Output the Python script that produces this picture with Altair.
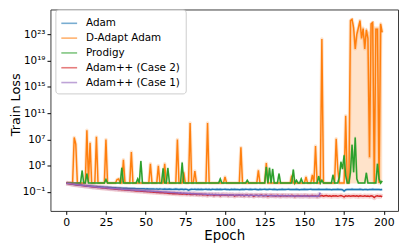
import altair as alt
import pandas as pd

# ---- data (log10 of train loss) ----
series_names = ["Adam", "D-Adapt Adam", "Prodigy", "Adam++ (Case 2)", "Adam++ (Case 1)"]
colors = ["#1f77b4", "#ff7f0e", "#2ca02c", "#d62728", "#9467bd"]

adam_log = [
    0.36, 0.32, 0.28, 0.25, 0.21, 0.18, 0.15, 0.12, 0.09, 0.06,
    0.03, 0.01, -0.02, -0.04, -0.07, -0.09, -0.11, -0.13, -0.15, -0.17,
    -0.19, -0.21, -0.23, -0.24, -0.26, -0.28, -0.29, -0.31, -0.32, -0.34,
    -0.35, -0.36, -0.38, -0.39, -0.40, -0.41, -0.42, -0.43, -0.44, -0.45,
    -0.46, -0.47, -0.47, -0.48, -0.49, -0.50, -0.49, -0.51, -0.52, -0.51,
    -0.53, -0.52, -0.54, -0.53, -0.55, -0.54, -0.56, -0.55, -0.57, -0.54,
    -0.56, -0.58, -0.55, -0.57, -0.59, -0.56, -0.58, -0.60, -0.57, -0.55,
    -0.58, -0.61, -0.57, -0.59, -0.62, -0.58, -0.60, -0.72, -0.63, -0.58,
    -0.60, -0.57, -0.61, -0.59, -0.62, -0.58, -0.63, -0.60, -0.57, -0.61,
    -0.59, -0.64, -0.58, -0.60, -0.62, -0.57, -0.61, -0.59, -0.63, -0.60,
    -0.58, -0.62, -0.60, -0.64, -0.59, -0.61, -0.58, -0.63, -0.60, -0.66,
    -0.62, -0.59, -0.61, -0.57, -0.60, -0.63, -0.59, -0.62, -0.60, -0.58,
    -0.61, -0.64, -0.59, -0.62, -0.60, -0.57, -0.61, -0.63, -0.59, -0.60,
    -0.62, -0.58, -0.61, -0.64, -0.60, -0.62, -0.59, -0.61, -0.63, -0.60,
    -0.58, -0.61, -0.63, -0.60, -0.62, -0.59, -0.61, -0.64, -0.60, -0.62,
    -0.59, -0.61, -0.63, -0.60, -0.58, -0.62, -0.60, -0.63, -0.61, -0.59,
    -0.62, -0.60, -0.63, -0.61, -0.59, -0.62, -0.60, -0.64, -0.61, -0.60,
    -0.62, -0.59, -0.61, -0.63, -0.65, -0.85, -0.66, -0.61, -0.60, -0.62,
    -0.59, -0.61, -0.63, -0.60, -0.62, -0.59, -0.61, -0.64, -0.60, -0.62,
    -0.64, -0.60, -0.62, -0.59, -0.61, -0.63, -0.60, -0.62, -0.64, -0.61,
]

dadapt_log = [
    0.36, 0.36, 0.36, 0.36, 0.36, 7.3, 6.3, 0.36, 0.36, 0.36,
    0.36, 0.36, 0.36, 8.4, 0.5, 6.5, 0.36, 0.36, 0.36, 7.4,
    0.36, 0.36, 0.36, 0.36, 0.36, 7.0, 0.36, 0.36, 0.36, 0.36,
    0.36, 0.36, 0.9, 1.0, 0.36, 0.36, 3.9, 0.36, 0.36, 0.36,
    0.36, 5.1, 0.36, 0.36, 0.36, 0.36, 0.36, 0.36, 0.36, 0.36,
    0.36, 0.36, 0.36, 3.3, 0.36, 0.36, 0.36, 0.36, 3.0, 0.36,
    0.36, 0.36, 3.3, 0.36, 0.36, 0.36, 0.36, 0.36, 0.36, 0.36,
    7.0, 0.36, 0.36, 0.36, 2.0, 0.36, 0.36, 0.36, 9.5, 0.36,
    0.36, 2.2, 0.36, 0.36, 0.36, 0.36, 0.36, 0.36, 0.36, 9.5,
    0.36, 0.36, 0.36, 0.36, 0.36, 0.36, 0.36, 0.36, 0.36, 0.36,
    1.3, 0.36, 0.36, 0.36, 0.36, 0.36, 0.36, 0.36, 0.36, 0.36,
    5.8, 0.36, 0.36, 0.36, 0.36, 0.36, 0.36, 0.36, 0.36, 0.36,
    0.36, 2.3, 0.36, 0.36, 0.36, 0.36, 3.4, 0.36, 0.36, 0.36,
    0.36, 0.36, 0.36, 0.36, 0.36, 0.36, 0.36, 0.36, 0.36, 0.36,
    0.36, 0.36, 1.5, 0.36, 0.36, 0.36, 0.36, 0.36, 0.36, 0.36,
    0.36, 1.3, 0.36, 0.36, 0.36, 1.6, 0.36, 6.0, 0.36, 0.36,
    0.36, 22.3, 0.36, 0.36, 0.36, 0.36, 0.36, 0.36, 0.36, 0.36,
    7.1, 2.5, 0.36, 0.36, 0.36, 0.36, 10.6, 0.36, 0.36, 25.1,
    25.3, 24.0, 20.8, 23.0, 24.0, 25.1, 22.4, 23.9, 20.8, 23.7,
    22.4, 4.3, 24.6, 24.8, 0.36, 23.8, 23.8, 0.36, 24.6, 23.3,
]

prodigy_log = [
    0.36, 0.36, 0.36, 0.36, 0.36, 0.36, 0.36, 0.36, 0.36, 0.36,
    2.25, 0.36, 0.36, 1.8, 0.36, 0.36, 0.36, 0.36, 0.36, 0.36,
    0.36, 0.36, 0.36, 0.36, 0.36, 0.9, 0.36, 0.36, 0.36, 0.36,
    0.36, 0.36, 0.36, 0.36, 0.36, 2.7, 0.36, 0.36, 0.36, 0.36,
    0.36, 0.36, 0.36, 0.36, 0.36, 1.0, 0.36, 3.7, 0.36, 0.36,
    0.36, 0.36, 0.36, 0.36, 0.36, 0.36, 0.36, 0.36, 0.36, 0.36,
    0.36, 2.6, 0.36, 0.36, 2.65, 0.36, 0.36, 0.36, 0.36, 0.36,
    0.36, 0.36, 0.36, 3.5, 0.36, 0.36, 0.36, 0.36, 0.36, 0.36,
    0.36, 0.36, 0.36, 0.36, 0.36, 0.36, 0.36, 0.36, 0.36, 0.36,
    0.36, 0.36, 0.36, 0.36, 0.36, 0.36, 0.36, 1.0, 0.36, 0.36,
    0.36, 0.36, 0.36, 0.36, 0.36, 0.36, 0.36, 0.36, 0.36, 0.36,
    0.36, 0.36, 0.36, 0.36, 0.8, 0.36, 0.36, 0.36, 0.36, 0.36,
    0.36, 0.36, 0.36, 0.36, 0.36, 0.36, 2.8, 0.36, 2.7, 0.36,
    2.5, 0.36, 0.36, 0.36, 1.8, 0.36, 0.36, 0.36, 0.36, 0.36,
    0.36, 0.36, 0.36, 2.4, 0.36, 0.8, 0.36, 0.36, 1.0, 0.36,
    0.36, 0.36, 0.36, 0.36, 0.36, 0.36, 0.36, 0.36, 0.36, 1.4,
    0.36, 0.8, 0.36, 0.36, 0.36, 0.36, 0.36, 0.36, 1.6, 0.36,
    0.36, 0.36, 1.2, 3.6, 2.5, 4.6, 1.5, 0.36, 0.36, 2.0,
    6.2, 2.0, 7.3, 1.0, 0.36, 0.36, 0.36, 0.36, 0.36, 1.9,
    0.36, 0.36, 0.36, 0.36, 0.36, 0.36, 3.3, 1.0, 0.36, 0.7,
]

case2_log = [
    0.36, 0.31, 0.27, 0.23, 0.19, 0.15, 0.11, 0.08, 0.04, 0.01,
    -0.02, -0.05, -0.08, -0.11, -0.14, -0.17, -0.20, -0.23, -0.25, -0.28,
    -0.31, -0.33, -0.36, -0.38, -0.41, -0.43, -0.45, -0.48, -0.50, -0.52,
    -0.55, -0.57, -0.59, -0.61, -0.63, -0.65, -0.67, -0.69, -0.71, -0.73,
    -0.75, -0.77, -0.79, -0.80, -0.83, -0.84, -0.86, -0.89, -0.90, -0.92,
    -0.94, -0.95, -0.98, -0.99, -1.01, -1.03, -1.04, -1.07, -1.08, -1.10,
    -1.12, -1.13, -1.16, -1.15, -1.19, -1.21, -1.19, -1.25, -1.22, -1.27,
    -1.24, -1.30, -1.26, -1.33, -1.28, -1.32, -1.36, -1.29, -1.38, -1.33,
    -1.37, -1.31, -1.40, -1.35, -1.42, -1.34, -1.45, -1.38, -1.41, -1.52,
    -1.39, -1.44, -1.40, -1.55, -1.42, -1.47, -1.41, -1.58, -1.45, -1.43,
    -1.49, -1.42, -1.56, -1.46, -1.50, -1.44, -1.62, -1.48, -1.52, -1.45,
    -1.55, -1.47, -1.60, -1.50, -1.46, -1.58, -1.51, -1.49, -1.65, -1.53,
    -1.48, -1.57, -1.52, -1.47, -1.61, -1.54, -1.50, -1.68, -1.55, -1.49,
    -1.58, -1.53, -1.62, -1.50, -1.56, -1.66, -1.52, -1.59, -1.54, -1.63,
    -1.55, -1.60, -1.51, -1.58, -1.70, -1.56, -1.53, -1.61, -1.57, -1.64,
    -1.52, -1.59, -1.55, -1.67, -1.58, -1.54, -1.62, -1.57, -1.72, -1.56,
    -1.60, -1.53, -1.65, -1.58, -1.55, -1.63, -1.59, -1.68, -1.56, -1.61,
    -1.57, -1.66, -1.59, -1.54, -1.62, -1.75, -1.58, -1.63, -1.57, -1.65,
    -1.60, -1.56, -1.64, -1.59, -1.69, -1.57, -1.62, -1.66, -1.58, -1.63,
    -1.60, -1.67, -1.59, -1.64, -1.85, -1.62, -1.58, -1.66, -1.61, -1.72,
]

case1_log = [
    0.36, 0.31, 0.28, 0.24, 0.20, 0.17, 0.13, 0.10, 0.07, 0.04,
    0.01, -0.02, -0.05, -0.08, -0.11, -0.13, -0.16, -0.19, -0.21, -0.24,
    -0.26, -0.28, -0.31, -0.33, -0.35, -0.37, -0.40, -0.42, -0.44, -0.46,
    -0.48, -0.50, -0.52, -0.54, -0.56, -0.58, -0.60, -0.61, -0.63, -0.65,
    -0.66, -0.68, -0.70, -0.71, -0.73, -0.74, -0.76, -0.77, -0.79, -0.80,
    -0.82, -0.83, -0.85, -0.86, -0.88, -0.89, -0.91, -0.92, -0.94, -0.95,
    -0.97, -0.98, -1.00, -1.01, -1.03, -1.04, -1.06, -1.08, -1.07, -1.11,
    -1.10, -1.14, -1.12, -1.17, -1.15, -1.19, -1.18, -1.22, -1.20, -1.25,
    -1.23, -1.27, -1.25, -1.30, -1.28, -1.32, -1.29, -1.35, -1.31, -1.37,
    -1.33, -1.38, -1.35, -1.42, -1.36, -1.40, -1.38, -1.45, -1.39, -1.41,
    -1.43, -1.40, -1.48, -1.42, -1.45, -1.41, -1.50, -1.44, -1.47, -1.43,
    -1.49, -1.45, -1.52, -1.46, -1.48, -1.55, -1.47, -1.50, -1.53, -1.48,
    -1.51, -1.56, -1.49, -1.54, -1.52, -1.58, -1.50, -1.55, -1.53, -1.57,
    -1.52, -1.59, -1.54, -1.56, -1.61, -1.55, -1.58, -1.53, -1.62, -1.57,
    -1.55, -1.60, -1.58, -1.63, -1.56, -1.61, -1.59, -1.64, -1.57, -1.62,
    -1.60, -1.58, -1.65, -1.59, -1.62, -1.66, -1.60, -1.63, -1.61, -1.64,
    -1.10,
]

# shaded spread of D-Adapt Adam at the end of training (log10)
dadapt_band_epochs = list(range(178, 200))
dadapt_band_lo = [0.3] * 22
dadapt_band_hi = [0.6, 25.4, 25.5, 24.6, 22.5, 23.8, 24.6, 25.4, 23.6, 24.4, 22.6,
                  24.1, 23.5, 23.4, 24.9, 25.1, 24.2, 24.2, 24.2, 24.2, 24.9, 23.8]

x_ticks = [0, 25, 50, 75, 100, 125, 150, 175, 200]
y_ticks = [1e-1, 1e3, 1e7, 1e11, 1e15, 1e19, 1e23]

series_logs = [adam_log, dadapt_log, prodigy_log, case2_log, case1_log]
halo_widths = [3.0, 3.5, 2.0, 5.0, 5.0]

FONT = "DejaVu Sans"

x_scale = alt.Scale(domain=[-9.95, 208.95], nice=False, zero=False)
y_scale = alt.Scale(type="log", domain=[10 ** -3.88, 10 ** 26.8], nice=False)

x_axis = alt.Axis(values=x_ticks, title="Epoch", grid=False, domain=False,
                  tickSize=3.5, tickColor="#000", labelColor="#000",
                  labelFontSize=11, labelFont=FONT, labelPadding=2,
                  titleFont=FONT, titleFontSize=13.5, titleFontWeight="normal",
                  titleColor="#000", titlePadding=1, format="d")

label_expr = ("datum.value < 1 ? '10⁻¹' : datum.value < 1e4 ? '10³' : "
              "datum.value < 1e8 ? '10⁷' : datum.value < 1e12 ? '10¹¹' : "
              "datum.value < 1e16 ? '10¹⁵' : datum.value < 1e20 ? '10¹⁹' : '10²³'")
y_axis = alt.Axis(values=y_ticks, title="Train Loss", grid=False, domain=False,
                  tickSize=3.5, tickColor="#000", labelColor="#000",
                  labelFontSize=10.5, labelFont=FONT, labelPadding=2,
                  labelExpr=label_expr,
                  titleFont=FONT, titleFontSize=13, titleFontWeight="normal",
                  titleColor="#000", titleX=-28, titleY=96, titleAngle=270,
                  titleAlign="center", titleBaseline="bottom")

color_enc = alt.Color(
    "series:N",
    scale=alt.Scale(domain=series_names, range=colors),
    legend=alt.Legend(orient="none", legendX=5, legendY=0, title=None,
                      symbolType="stroke", symbolSize=256, symbolStrokeWidth=1.6,
                      symbolOpacity=0.6, labelFontSize=10.5, labelFont=FONT,
                      labelColor="#000", labelOffset=8, rowPadding=0, padding=5,
                      fillColor="rgba(255,255,255,0.8)", strokeColor="#cccccc",
                      cornerRadius=3, labelLimit=200),
)

layers = []

# D-Adapt band
band_df = pd.DataFrame({
    "epoch": dadapt_band_epochs,
    "lo": [10 ** v for v in dadapt_band_lo],
    "hi": [10 ** v for v in dadapt_band_hi],
})

for idx, (name, logs) in enumerate(zip(series_names, series_logs)):
    df = pd.DataFrame({
        "epoch": list(range(len(logs))),
        "loss": [10 ** v for v in logs],
        "series": [name] * len(logs),
    })
    if idx == 1:
        layers.append(
            alt.Chart(band_df).mark_area(color=colors[1], opacity=0.22).encode(
                x=alt.X("epoch:Q", scale=x_scale, axis=x_axis),
                y=alt.Y("lo:Q", scale=y_scale, axis=y_axis),
                y2="hi:Q",
            )
        )
    layers.append(
        alt.Chart(df).mark_line(strokeWidth=halo_widths[idx], opacity=0.2,
                                color=colors[idx], strokeJoin="round").encode(
            x=alt.X("epoch:Q", scale=x_scale, axis=x_axis),
            y=alt.Y("loss:Q", scale=y_scale, axis=y_axis),
        )
    )
    layers.append(
        alt.Chart(df).mark_line(strokeWidth=1.5, opacity=1.0).encode(
            x=alt.X("epoch:Q", scale=x_scale, axis=x_axis),
            y=alt.Y("loss:Q", scale=y_scale, axis=y_axis),
            color=color_enc,
        )
    )

chart = alt.layer(*layers).properties(
    width=352,
    height=204,
    padding={"left": 43, "top": 0, "right": 1, "bottom": 32},
    autosize=alt.AutoSizeParams(type="none"),
).configure_view(stroke="#3a3a3a", strokeWidth=1)

chart.save("out.html", embed_options={"renderer": "svg", "actions": False})
